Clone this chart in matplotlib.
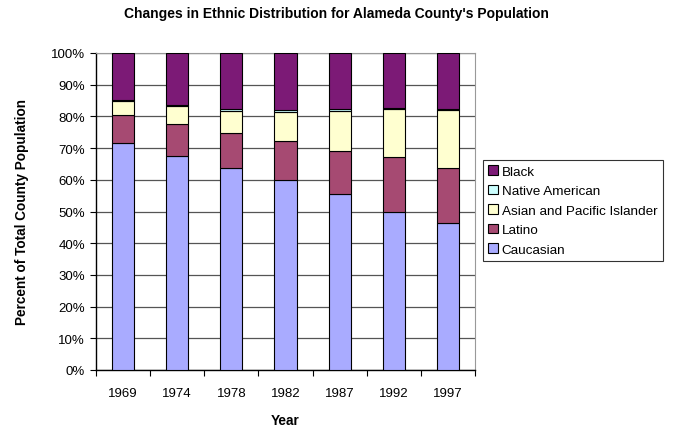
import numpy as np
import matplotlib
matplotlib.use("Agg")
import matplotlib.pyplot as plt
from matplotlib.ticker import FixedLocator, PercentFormatter

years = ["1969", "1974", "1978", "1982", "1987", "1992", "1997"]
caucasian = [71.6, 67.6, 63.7, 59.8, 55.5, 50.0, 46.5]
latino = [8.8, 10.1, 11.2, 12.4, 13.6, 17.2, 17.2]
asian = [4.4, 5.6, 6.9, 9.2, 12.7, 15.1, 18.3]
native = [0.4, 0.4, 0.5, 0.5, 0.5, 0.4, 0.3]
black = [14.8, 16.3, 17.7, 18.1, 17.7, 17.3, 17.7]

series = [
    ("Caucasian", caucasian, "#a9abff"),
    ("Latino", latino, "#a64a72"),
    ("Asian and Pacific Islander", asian, "#ffffd0"),
    ("Native American", native, "#ccffff"),
    ("Black", black, "#7c1a76"),
]

plt.rcParams['font.family'] = ['Liberation Sans', 'DejaVu Sans']

fig = plt.figure(figsize=(6.73, 4.31), dpi=100)
ax = fig.add_axes([96 / 673, 1 - 371 / 431, (475 - 96) / 673, (371 - 54) / 431])

x = np.arange(len(years))
bottom = np.zeros(len(years))
handles = []
for name, vals, color in series:
    vals = np.array(vals)
    b = ax.bar(x, vals, 0.41, bottom=bottom, color=color, edgecolor="black",
               linewidth=0.8, label=name, zorder=3)
    handles.append(b)
    bottom += vals

ax.set_xlim(-0.5, len(years) - 0.5)
ax.set_ylim(0, 100)
ax.set_yticks(np.arange(0, 101, 10))
ax.yaxis.set_major_formatter(PercentFormatter(decimals=0))
ax.grid(axis="y", color="#555555", linewidth=0.9, zorder=0)

# ticks between categories, labels centred under bars
ax.xaxis.set_major_locator(FixedLocator(np.arange(-0.5, len(years), 1)))
ax.set_xticklabels([])
ax.set_xticks(x, minor=True)
ax.set_xticklabels(years, minor=True)
ax.tick_params(axis="x", which="minor", length=0, pad=12, labelsize=9.5)
ax.tick_params(axis="x", which="major", length=4, direction="out")
ax.tick_params(axis="y", length=4, labelsize=9.5, pad=4)

for side in ["top", "right"]:
    ax.spines[side].set_color("#999999")
ax.spines["left"].set_linewidth(1.0)
ax.spines["bottom"].set_linewidth(1.0)

ax.set_ylabel("Percent of Total County Population", fontsize=9.8,
              fontweight="bold", labelpad=16)
ax.set_xlabel("Year", fontsize=9.8, fontweight="bold", labelpad=10)
fig.text(0.5, 1 - 14 / 431, "Changes in Ethnic Distribution for Alameda County's Population",
         ha="center", va="center", fontsize=10, fontweight="bold")

leg = fig.legend(handles[::-1], [s[0] for s in series][::-1],
                 loc="upper left", bbox_to_anchor=(483 / 673, 1 - 161 / 431),
                 fontsize=9.7, frameon=True, fancybox=False, edgecolor="black",
                 handlelength=0.7, handleheight=0.7, handletextpad=0.3,
                 labelspacing=0.52, borderpad=0.4, borderaxespad=0)
leg.get_frame().set_linewidth(0.8)

fig.savefig("out.png", dpi=100)
